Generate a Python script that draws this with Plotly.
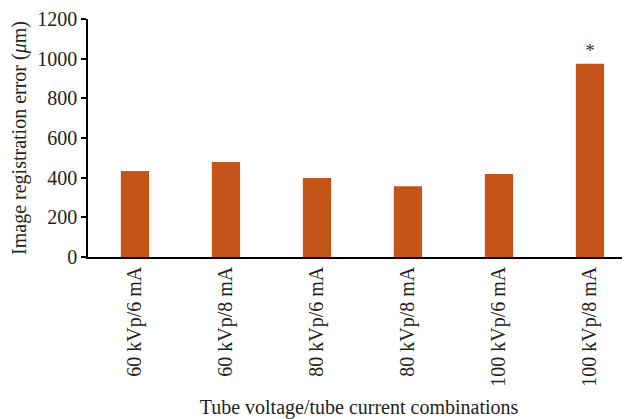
import plotly.graph_objects as go

categories = ["60 kVp/6 mA", "60 kVp/8 mA", "80 kVp/6 mA", "80 kVp/8 mA", "100 kVp/6 mA", "100 kVp/8 mA"]
errors = [433, 479, 398, 357, 418, 974]
significance = ["", "", "", "", "", "*"]
y_ticks = [0, 200, 400, 600, 800, 1000, 1200]

FONT = "Liberation Serif"
BAR_COLOR = "#C55418"
TXT = "#231f20"

fig = go.Figure()
fig.add_trace(go.Bar(
    x=categories, y=errors,
    marker=dict(color=BAR_COLOR, line=dict(width=0)),
    text=significance, textposition="outside",
    textfont=dict(family=FONT, size=19, color="#333333"),
    cliponaxis=False,
))

# page body has an 8px default margin, so the figure is sized 8px smaller
fig.update_layout(
    width=622, height=411,
    margin=dict(l=80, r=0, t=11, b=162),
    plot_bgcolor="white", paper_bgcolor="white",
    bargap=0.69,
    showlegend=False,
    font=dict(family=FONT, size=20, color=TXT),
    uniformtext=dict(minsize=8, mode="show"),
)
fig.update_xaxes(
    range=[-0.516, 5.44],
    tickangle=-90,
    showline=True, linecolor="black", linewidth=1.5,
    ticks="", showgrid=False, zeroline=False,
    tickfont=dict(family=FONT, size=20, color=TXT),
    title=dict(text="Tube voltage/tube current combinations",
               font=dict(family=FONT, size=20, color=TXT), standoff=15),
    automargin=False,
)
fig.update_yaxes(
    range=[0, 1200],
    tickvals=y_ticks,
    showline=True, linecolor="black", linewidth=1.5,
    ticks="outside", ticklen=5, tickwidth=1.5, tickcolor="black",
    showgrid=False, zeroline=False,
    tickfont=dict(family=FONT, size=20, color=TXT),
    title=dict(text="Image registration error (<i>μ</i>m)",
               font=dict(family=FONT, size=20, color=TXT), standoff=8),
    automargin=False,
)

fig.write_html("out.html")
